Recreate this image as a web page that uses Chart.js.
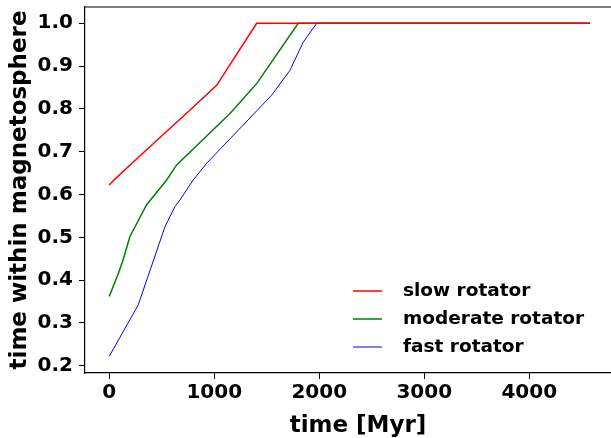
<!DOCTYPE html>
<html>
<head>
<meta charset="utf-8">
<script src="https://cdn.jsdelivr.net/npm/chart.js@4/dist/chart.umd.min.js"></script>
<style>
  html, body { margin: 0; padding: 0; background: #fff; }
  #wrap { width: 611px; height: 438px; }
</style>
</head>
<body>
<div id="wrap"><canvas id="chart" width="611" height="438"></canvas></div>
<script>
// values
const slowTime = [0, 54, 309, 785, 1023, 1404, 4579];
const slowFrac = [0.622, 0.636, 0.694, 0.801, 0.855, 1.0, 1.0];

const moderateTime = [0, 86, 133, 197, 356, 547, 642, 1150, 1404, 1800, 4579];
const moderateFrac = [0.362, 0.415, 0.448, 0.502, 0.576, 0.634, 0.669, 0.789, 0.859, 1.0, 1.0];

const fastTime = [0, 276, 531, 626, 673, 800, 928, 1547, 1721, 1848, 1976, 4579];
const fastFrac = [0.222, 0.342, 0.525, 0.572, 0.587, 0.634, 0.673, 0.832, 0.890, 0.956, 1.0, 1.0];

const seriesLabels = ['slow rotator', 'moderate rotator', 'fast rotator'];
const xTicks = [0, 1000, 2000, 3000, 4000];
const yTicks = [0.2, 0.3, 0.4, 0.5, 0.6, 0.7, 0.8, 0.9, 1.0];

const FONT = '"DejaVu Sans", sans-serif';

function toPoints(xs, ys) {
    return xs.map(function(x, i) { return { x: x, y: ys[i] }; });
}

// frame top line, x title and the legend box inside the axes
const extras = {
    id: 'extras',
    afterDraw: function(chart) {
        const ctx = chart.ctx;
        const area = chart.chartArea;
        ctx.save();
        ctx.strokeStyle = '#000';
        ctx.lineWidth = 1.2;
        ctx.beginPath();
        ctx.moveTo(area.left, area.top);
        ctx.lineTo(area.right, area.top);
        ctx.stroke();

        ctx.fillStyle = '#000';
        ctx.font = 'bold 23px ' + FONT;
        ctx.textAlign = 'center';
        ctx.textBaseline = 'alphabetic';
        ctx.fillText('time [Myr]', 358, 432);

        ctx.font = 'bold 18.5px ' + FONT;
        ctx.textAlign = 'left';
        ctx.textBaseline = 'middle';
        chart.data.datasets.forEach(function(ds, i) {
            const y = 291 + i * 28;
            ctx.strokeStyle = ds.borderColor;
            ctx.lineWidth = ds.borderWidth;
            ctx.beginPath();
            ctx.moveTo(353, y);
            ctx.lineTo(382, y);
            ctx.stroke();
            ctx.fillText(ds.label, 403, y);
        });
        ctx.restore();
    }
};

new Chart(document.getElementById('chart'), {
    type: 'line',
    data: {
        datasets: [
            { label: seriesLabels[0], data: toPoints(slowTime, slowFrac), borderColor: '#ff0000', borderWidth: 1.5 },
            { label: seriesLabels[1], data: toPoints(moderateTime, moderateFrac), borderColor: '#008000', borderWidth: 1.5 },
            { label: seriesLabels[2], data: toPoints(fastTime, fastFrac), borderColor: '#0000ff', borderWidth: 1 }
        ]
    },
    options: {
        responsive: false,
        animation: false,
        events: [],
        elements: { point: { radius: 0 }, line: { tension: 0, fill: false } },
        layout: { padding: { top: 7, right: 0, left: 0, bottom: 0 } },
        plugins: { legend: { display: false }, tooltip: { enabled: false } },
        scales: {
            x: {
                type: 'linear',
                min: -231,
                max: 4779,
                afterBuildTicks: function(scale) {
                    scale.ticks = xTicks.map(function(v) { return { value: v }; });
                },
                afterFit: function(scale) {
                    scale.height = 65;
                    scale.paddingLeft = 0;
                    scale.paddingRight = 0;
                },
                grid: { drawOnChartArea: false, drawTicks: true, tickLength: 6, tickColor: '#000', tickWidth: 1 },
                border: { display: true, color: '#000', width: 1.2 },
                ticks: {
                    color: '#000', padding: 2, maxRotation: 0,
                    font: { family: FONT, size: 20, weight: 'bold' },
                    callback: function(v) { return String(v); }
                }
            },
            y: {
                type: 'linear',
                min: 0.183,
                max: 1.038,
                afterBuildTicks: function(scale) {
                    scale.ticks = yTicks.map(function(v) { return { value: v }; });
                },
                afterFit: function(scale) {
                    scale.width = 85;
                    scale.paddingTop = 0;
                    scale.paddingBottom = 0;
                },
                grid: { drawOnChartArea: false, drawTicks: true, tickLength: 6, tickColor: '#000', tickWidth: 1 },
                border: { display: true, color: '#000', width: 1.2 },
                ticks: {
                    color: '#000', padding: 6,
                    font: { family: FONT, size: 20, weight: 'bold' },
                    callback: function(v) { return v.toFixed(1); }
                },
                title: {
                    display: true,
                    text: 'time within magnetosphere',
                    color: '#000',
                    padding: { top: 6, bottom: 0 },
                    font: { family: FONT, size: 23, weight: 'bold', lineHeight: 1.2 }
                }
            }
        }
    },
    plugins: [extras]
});
</script>
</body>
</html>
